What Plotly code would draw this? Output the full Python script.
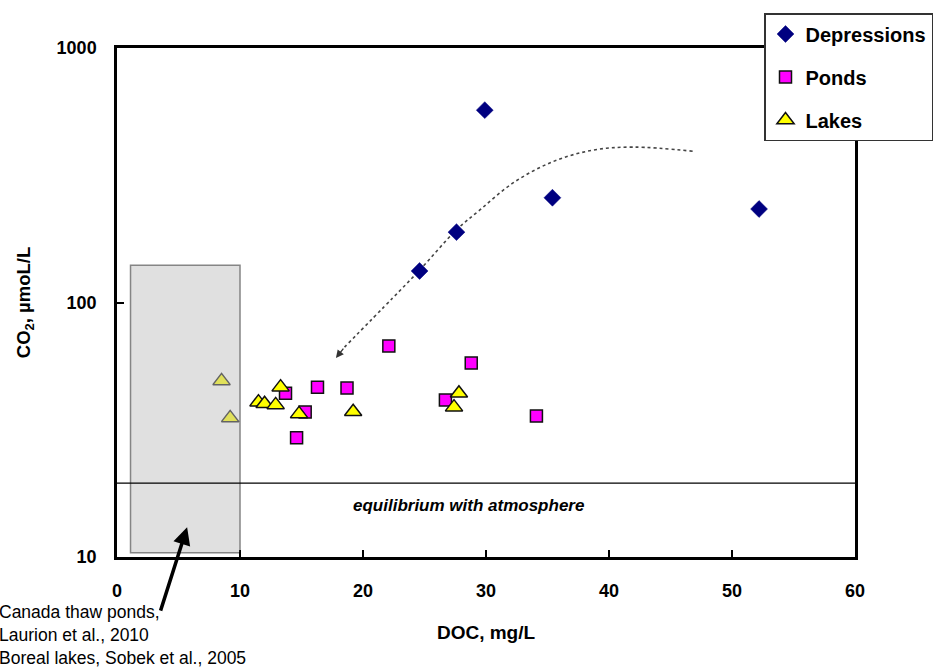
import math
import plotly.graph_objects as go

# ---- data ----
dep_doc = [29.9, 35.4, 52.2, 27.6, 24.6]
dep_co2 = [570, 258, 233, 189, 133]

pond_doc = [22.1, 28.8, 16.3, 18.7, 13.7, 26.7, 15.3, 14.6, 34.1]
pond_co2 = [67.5, 57.8, 46.5, 46.1, 44.0, 41.4, 37.1, 29.4, 35.8]

lake_doc = [8.5, 9.2, 13.3, 11.5, 12.0, 12.9, 14.8, 19.2, 27.8, 27.4]
lake_co2 = [49.2, 35.2, 46.5, 40.6, 40.0, 39.6, 36.5, 37.2, 44.0, 38.8]

# dotted trend curve (annotation guide), DOC / CO2
curve_doc = [46.8, 42.0, 38.7, 35.4, 32.2, 29.5, 27.6, 24.6, 22.4, 18.5]
curve_co2 = [393, 408, 397, 357, 295, 231, 193, 134, 104, 66.8]
curve_head = (17.8, 60.5)

equilibrium_co2 = 19.5
lit_box_doc = [1.1, 10.0]
lit_box_co2 = [10.4, 140]

x_ticks = [0, 10, 20, 30, 40, 50, 60]
y_ticks = [10, 100, 1000]

FONT = "Arial, Liberation Sans, sans-serif"

fig = go.Figure()

fig.add_trace(go.Scatter(
    x=curve_doc, y=curve_co2, mode="lines", showlegend=False, hoverinfo="skip",
    line=dict(color="#444444", width=1.6, dash="dot", shape="spline")))

fig.add_trace(go.Scatter(
    x=dep_doc, y=dep_co2, mode="markers", name="Depressions", legendgroup="d",
    marker=dict(symbol="diamond", size=13, color="#000080",
                line=dict(color="#000080", width=0.5))))
fig.add_trace(go.Scatter(
    x=pond_doc, y=pond_co2, mode="markers", name="Ponds", legendgroup="p",
    marker=dict(symbol="square", size=12, color="#FF00FF",
                line=dict(color="#111111", width=1.5))))
fig.add_trace(go.Scatter(
    x=lake_doc, y=lake_co2, mode="markers", name="Lakes", legendgroup="l",
    marker=dict(symbol="triangle-up", size=15, color="#FFFF00",
                line=dict(color="#111111", width=1.5))))

shapes = [
    dict(type="rect", xref="x", yref="y", layer="above",
         x0=lit_box_doc[0], x1=lit_box_doc[1], y0=lit_box_co2[0], y1=lit_box_co2[1],
         fillcolor="rgb(190,190,190)", opacity=0.475,
         line=dict(color="black", width=1.5)),
    dict(type="line", xref="paper", yref="y", x0=0, x1=1,
         y0=equilibrium_co2, y1=equilibrium_co2,
         line=dict(color="black", width=1.2)),
]

annotations = [
    dict(x=curve_head[0], y=math.log10(curve_head[1]), xref="x", yref="y",
         ax=curve_doc[-1], ay=math.log10(curve_co2[-1]), axref="x", ayref="y",
         text="", showarrow=True, arrowhead=2, arrowsize=1.2, arrowwidth=1.3,
         arrowcolor="#333333", standoff=0, startstandoff=0),
    dict(x=28.6, y=math.log10(16.0), xref="x", yref="y",
         text="equilibrium with atmosphere", showarrow=False,
         font=dict(family=FONT, size=17, color="black", style="italic", weight="bold")),
    dict(x=5.7, y=math.log10(13.1), xref="x", yref="y", text="",
         showarrow=True, ax=-27, ay=85, arrowhead=2, arrowsize=1,
         arrowwidth=3.5, arrowcolor="black", standoff=0),
    dict(x=-120 / 738, y=(557 - 600) / 509, xref="paper", yref="paper",
         xanchor="left", yanchor="top", align="left", showarrow=False,
         text="Canada thaw ponds,<br>Laurion et al., 2010<br>Boreal lakes, Sobek et al., 2005",
         font=dict(family=FONT, size=17.5, color="black")),
]

fig.update_layout(
    width=937, height=671,
    margin=dict(l=117, r=82, t=48, b=114, autoexpand=False),
    paper_bgcolor="white", plot_bgcolor="white",
    font=dict(family=FONT, color="black"),
    shapes=shapes, annotations=annotations,
    legend=dict(x=(764 - 117) / 738, y=(557 - 13) / 509, xanchor="left", yanchor="top",
                bgcolor="white", bordercolor="#333333", borderwidth=1.5,
                font=dict(family=FONT, size=20, weight="bold"),
                tracegroupgap=14, traceorder="grouped"),
    xaxis=dict(range=[0, 60], tickvals=x_ticks, ticks="inside", ticklen=7,
               tickwidth=2, tickcolor="black", showgrid=False, zeroline=False,
               showline=True, linecolor="black", linewidth=2.5, mirror=True,
               tickfont=dict(family=FONT, size=18, weight="bold"),
               ticklabelstandoff=16,
               title=dict(text="DOC, mg/L", standoff=26,
                          font=dict(family=FONT, size=19, weight="bold"))),
    yaxis=dict(type="log", range=[1, 3], tickvals=y_ticks, ticks="inside", ticklen=7,
               tickwidth=2, tickcolor="black", showgrid=False, zeroline=False,
               showline=True, linecolor="black", linewidth=2.5, mirror=True,
               tickfont=dict(family=FONT, size=18, weight="bold"),
               ticklabelstandoff=14,
               title=dict(text="CO<sub>2</sub>, µmoL/L", standoff=22,
                          font=dict(family=FONT, size=18.5, weight="bold"))),
)

fig.write_html("out.html")
